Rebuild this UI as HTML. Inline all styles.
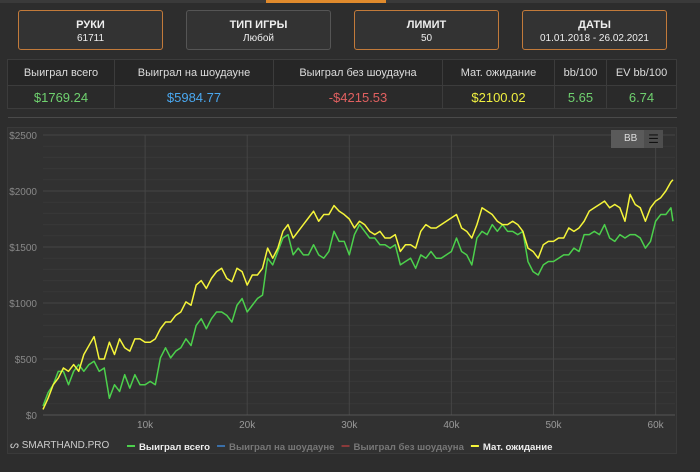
<!DOCTYPE html>
<html><head><meta charset="utf-8"><style>
body{margin:0;width:700px;height:472px;background:#2d2d2d;font-family:"Liberation Sans",sans-serif;position:relative;overflow:hidden;color:#eee}
.top{position:absolute;top:0;height:3px;background:#3a3a3a}
.box{position:absolute;top:10px;height:40px;width:145px;background:#333;border:1px solid #c27a3a;border-radius:3px;text-align:center;box-sizing:border-box}
.box b{display:block;font-size:11px;margin-top:8px;font-weight:bold}
.box span{display:block;font-size:10px;margin-top:2px}
table{position:absolute;left:7px;top:59px;width:670px;border-collapse:collapse;background:#2a2a2a;font-size:11px;text-align:center}
td{border:1px solid #3c3c3c;padding:0}
tr.h td{height:25px;color:#ddd;background:#262626}
tr.v td{height:22px;font-size:13px}
</style></head><body>
<div class="top" style="left:0;width:700px"></div>
<div class="top" style="left:266px;width:120px;background:#e08a2c"></div>
<div class="box" style="left:18px"><b>РУКИ</b><span>61711</span></div>
<div class="box" style="left:186px;border-color:#555"><b>ТИП ИГРЫ</b><span>Любой</span></div>
<div class="box" style="left:354px"><b>ЛИМИТ</b><span>50</span></div>
<div class="box" style="left:522px"><b>ДАТЫ</b><span>01.01.2018 - 26.02.2021</span></div>
<table>
<tr class="h"><td style="width:106px">Выиграл всего</td><td style="width:158px">Выиграл на шоудауне</td><td style="width:168px">Выиграл без шоудауна</td><td style="width:111px">Мат. ожидание</td><td style="width:51px">bb/100</td><td>EV bb/100</td></tr>
<tr class="v"><td style="color:#6fd16f">$1769.24</td><td style="color:#4aa8f0">$5984.77</td><td style="color:#e06060">-$4215.53</td><td style="color:#f0f040">$2100.02</td><td style="color:#6fd16f">5.65</td><td style="color:#6fd16f">6.74</td></tr>
</table>
<div style="position:absolute;left:8px;top:117px;width:669px;height:1px;background:#4a4a4a"></div>
<div style="position:absolute;left:7px;top:127px;width:670px;height:327px;background:#313131;border:1px solid #3a3a3a;box-sizing:border-box"></div>
<svg id="ch" width="700" height="472" style="position:absolute;left:0;top:0"></svg>
<div style="position:absolute;left:611px;top:130px;width:52px;height:18px;background:#5a5a5a;font-size:10px;color:#ddd"><span style="position:absolute;left:13px;top:3px">BB</span><div style="position:absolute;left:33px;top:0;width:19px;height:18px;background:#4e4e4e;text-align:center;font-size:12px;line-height:18px;color:#111">☰</div></div>
<div style="position:absolute;left:10px;top:440px;font-size:10px;color:#ccc">ᔕ SMARTHAND.PRO</div>
<script>
const hands=[0,0.5,1,1.5,2,2.5,3,3.5,4,4.5,5,5.5,6,6.5,7,7.5,8,8.5,9,9.5,10,10.5,11,11.5,12,12.5,13,13.5,14,14.5,15,15.5,16,16.5,17,17.5,18,18.5,19,19.5,20,20.5,21,21.5,22,22.5,23,23.5,24,24.5,25,25.5,26,26.5,27,27.5,28,28.5,29,29.5,30,30.5,31,31.5,32,32.5,33,33.5,34,34.5,35,35.5,36,36.5,37,37.5,38,38.5,39,39.5,40,40.5,41,41.5,42,42.5,43,43.5,44,44.5,45,45.5,46,46.5,47,47.5,48,48.5,49,49.5,50,50.5,51,51.5,52,52.5,53,53.5,54,54.5,55,55.5,56,56.5,57,57.5,58,58.5,59,59.5,60,60.5,61,61.5,61.7];
const ev=[50,150,270,330,420,390,450,390,540,620,700,500,500,650,540,680,600,570,680,680,650,650,680,770,830,830,890,920,1010,980,1160,1200,1130,1220,1280,1310,1220,1190,1310,1280,1160,1250,1250,1310,1490,1400,1490,1640,1700,1580,1640,1700,1760,1820,1730,1790,1790,1870,1820,1790,1750,1670,1730,1700,1640,1610,1640,1580,1580,1610,1460,1520,1520,1490,1640,1700,1670,1670,1700,1730,1760,1790,1670,1640,1580,1700,1850,1820,1790,1730,1700,1700,1730,1700,1640,1490,1460,1400,1520,1550,1550,1580,1580,1670,1640,1670,1730,1820,1850,1880,1910,1850,1880,1850,1730,1970,1880,1850,1730,1850,1910,1940,2000,2080,2100];
const won=[80,200,270,390,390,270,390,450,390,450,480,390,420,150,270,210,360,240,360,270,270,300,270,510,600,510,570,600,680,620,800,860,770,860,920,920,890,830,980,1040,920,980,1040,1070,1400,1340,1460,1580,1610,1430,1490,1430,1430,1520,1430,1400,1460,1640,1550,1550,1430,1610,1700,1640,1580,1580,1520,1520,1490,1520,1340,1370,1400,1310,1430,1400,1460,1400,1400,1430,1460,1580,1460,1430,1340,1580,1640,1610,1700,1640,1700,1640,1640,1610,1640,1370,1280,1250,1340,1370,1370,1400,1430,1430,1490,1460,1610,1610,1640,1610,1700,1580,1550,1610,1580,1610,1610,1580,1490,1550,1730,1790,1790,1850,1730];
const yTicks=[0,500,1000,1500,2000,2500];
const xTicks=[10,20,30,40,50,60];
const legendNames=["Выиграл всего","Выиграл на шоудауне","Выиграл без шоудауна","Мат. ожидание"];
const legendColors=["#4cd04c","#3a6fa8","#8a3a3a","#f5f53a"];
const legendText=["#eee","#777","#777","#eee"];
const svg=document.getElementById('ch'),NS='http://www.w3.org/2000/svg';
const X=k=>43+k*10.21, Y=v=>415-v*0.112;
function mk(t,a){const e=document.createElementNS(NS,t);for(const k in a)e.setAttribute(k,a[k]);svg.appendChild(e);return e;}
for(let v=0;v<=2500;v+=100){const l=mk('line',{x1:43,x2:675,y1:Y(v),y2:Y(v),stroke:v%500?'#383838':'#454545','stroke-width':1});

}
yTicks.forEach(v=>{const t=mk('text',{x:37,y:Y(v)+4,'text-anchor':'end','font-size':10,fill:'#888'});t.textContent='$'+v;

});
xTicks.forEach(k=>{const l=mk('line',{x1:X(k),x2:X(k),y1:135,y2:415,stroke:'#454545'});


const t=mk('text',{x:X(k),y:428,'text-anchor':'middle','font-size':10,fill:'#999'});t.textContent=k+'k';

});
const ax=mk('line',{x1:43,x2:675,y1:415,y2:415,stroke:'#555'});


function line(vals,col,name){const p=mk('polyline',{points:vals.map((v,i)=>X(hands[i])+','+Y(v)).join(' '),fill:'none',stroke:col,'stroke-width':1.5,'stroke-linejoin':'round'});

}
line(won,'#4cd04c','won-total-line');
line(ev,'#f5f53a','ev-line');
let lx=127;
legendNames.forEach((n,i)=>{const s=mk('line',{x1:lx,x2:lx+8,y1:446,y2:446,stroke:legendColors[i],'stroke-width':2});


const t=mk('text',{x:lx+12,y:450,'font-size':9.6,'font-weight':'bold',fill:legendText[i]});t.textContent=n;


lx+=12+t.getComputedTextLength()+7;});
</script>
</body></html>
